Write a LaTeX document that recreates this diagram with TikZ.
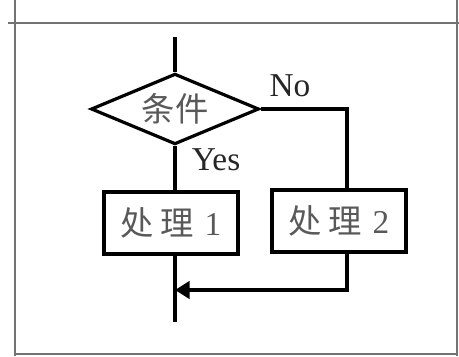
\documentclass[tikz,border=0pt]{standalone}
\usepackage{fontspec}
\setmainfont{Liberation Serif}
\newfontfamily\cjk{Noto Sans CJK SC}
\usetikzlibrary{shapes.geometric,arrows.meta}

\begin{document}
\begin{tikzpicture}[x=0.75pt, y=-0.75pt,
			every node/.style = {font=\fontsize{25}{28}\selectfont, text=black!85},
			flowline/.style = {draw, line width=2.8pt},
			decision/.style = {shape=diamond, aspect=2.4, draw, line width=2.4pt, inner sep=0pt,
				minimum width=126pt, minimum height=53pt, text=black!65},
			process/.style = {shape=rectangle, draw, line width=2.8pt,
				minimum width=101pt, minimum height=46pt, text=black!65},
			frameline/.style = {draw=black!55, line width=1pt}
			]
			
			% Page frame
			\useasboundingbox (0,0) rectangle (459,356);
			\draw[frameline] (8,23) -- (459,23);
			\draw[frameline] (15,0) -- (15,356);
			\draw[frameline] (457,0) -- (457,356);
			\draw[frameline] (15,354) -- (457,354);
			
			% Decision and the two branches
			\coordinate (start) at (175,37);
			\node[decision] (cond) at (175,109) {\cjk 条\hspace{1pt}件};
			\node[process] (proc1) at (171,223) {{\cjk 处\hspace{5pt}理}\hspace{8pt}1};
			\node[process] (proc2) at (339,221) {{\cjk 处\hspace{5pt}理}\hspace{8pt}2};
			\coordinate (merge) at (175,290);
			\coordinate (stop) at (175,322);
			
			% Branch labels
			\node (no) at (290,86) {No};
			\node (yes) at (216,160) {Yes};
			
			% Connectors
			\draw[flowline] (start) -- (cond.north);
			\draw[flowline] (cond.south) -- (cond.south |- proc1.north);
			\draw[flowline] (cond.east) -| ([xshift=6pt]proc2.north);
			\draw[flowline] (merge |- proc1.south) -- (stop);
			\draw[flowline, -{Triangle[length=11pt, width=13pt]}]
				([xshift=6pt]proc2.south) |- (merge);
			
		\end{tikzpicture}
\end{document}
